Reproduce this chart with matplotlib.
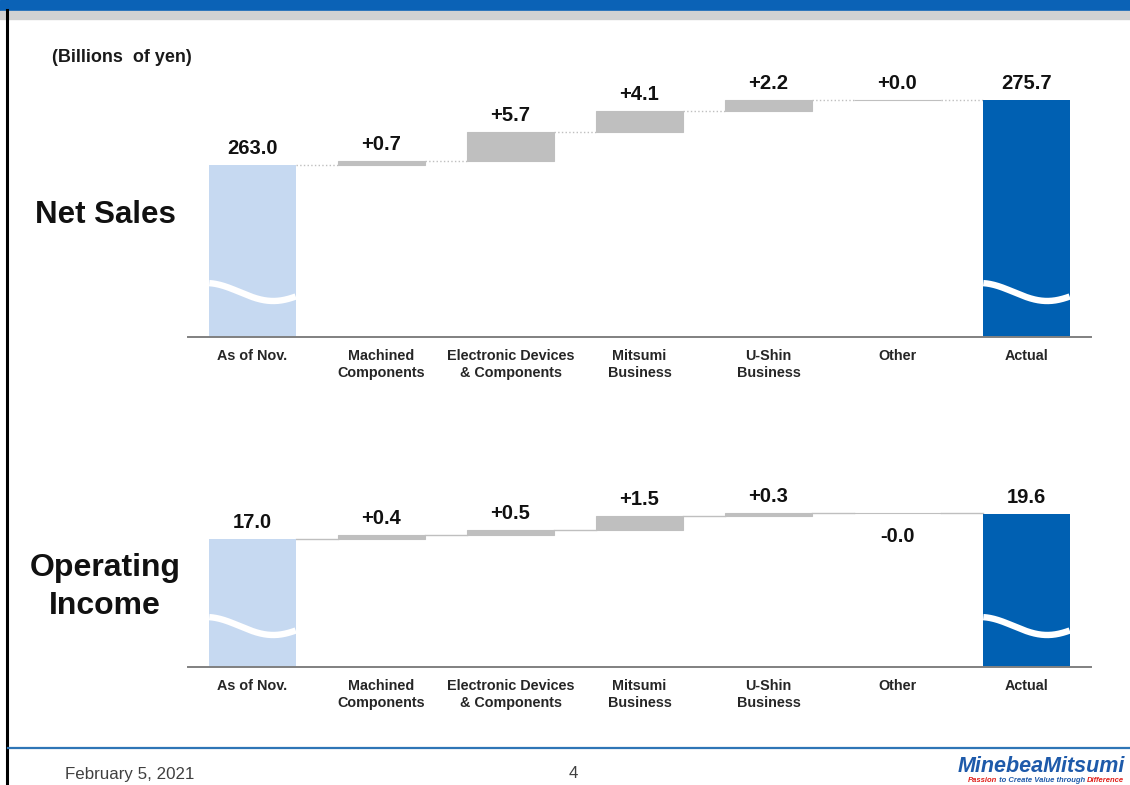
import numpy as np
import matplotlib
matplotlib.use("Agg")
import matplotlib.pyplot as plt
from matplotlib.lines import Line2D
from matplotlib.patches import Rectangle

plt.rcParams['font.family'] = ['Liberation Sans', 'DejaVu Sans']

# ---- data (billions of yen) ----
categories = ["As of Nov.", "Machined\nComponents", "Electronic Devices\n& Components",
              "Mitsumi\nBusiness", "U-Shin\nBusiness", "Other", "Actual"]
sales_start = 263.0
sales_changes = [0.7, 5.7, 4.1, 2.2, 0.0]
sales_actual = 275.7
income_start = 17.0
income_changes = [0.4, 0.5, 1.5, 0.3, -0.0]
income_actual = 19.6

LIGHT_BLUE = "#C6D9F1"
DARK_BLUE = "#0060B2"
GRAY = "#BFBFBF"

W, H = 1130, 785
fig = plt.figure(figsize=(W / 100, H / 100), dpi=100)


def fx(x):
    return x / W


def fy(y):
    return 1 - y / H


def add_axes_px(left, top, right, bottom):
    return fig.add_axes([fx(left), fy(bottom), (right - left) / W, (bottom - top) / H])


def draw_wave(ax, xc, width, center_px, amp_px, ax_h_px):
    xs = np.linspace(xc - width / 2, xc + width / 2, 200)
    t = (xs - (xc - width / 2)) / width
    y_px = center_px + amp_px * np.cos(np.pi * (t + 0.04) / 0.78)
    ax.plot(xs, y_px / ax_h_px, color="white", lw=4.6, solid_capstyle="butt",
            transform=ax.get_xaxis_transform(), zorder=4, clip_on=False)


def waterfall(ax, start, changes, actual, ylim, ax_h_px, conn_style, wave_px):
    n = len(changes) + 2
    x = np.arange(n)
    w = 0.67
    levels = start + np.concatenate([[0.0], np.cumsum(changes)])

    ax.bar(x[0], start, w, color=LIGHT_BLUE, zorder=2)
    ax.bar(x[1:-1], changes, w, bottom=levels[:-1], color=GRAY,
           edgecolor=GRAY, linewidth=0.8, zorder=2)
    ax.bar(x[-1], actual, w, color=DARK_BLUE, zorder=2)

    # connectors between consecutive bars
    for i in range(n - 1):
        lvl = levels[min(i, len(levels) - 1)]
        ax.plot([x[i] + w / 2, x[i + 1] - w / 2], [lvl, lvl], color="#BFBFBF",
                lw=1.0, linestyle=conn_style, zorder=1)

    lab = dict(ha="center", fontsize=14.5, fontweight="bold", color="#111111",
               textcoords="offset points")
    ax.annotate(f"{start:.1f}", (x[0], start), xytext=(0, 5), va="bottom", **lab)
    for i, c in enumerate(changes):
        lo, hi = levels[i], levels[i + 1]
        if np.signbit(c):
            ax.annotate(f"{c:+.1f}", (x[i + 1], min(lo, hi)), xytext=(0, -10), va="top", **lab)
        else:
            ax.annotate(f"{c:+.1f}", (x[i + 1], max(lo, hi)), xytext=(0, 5), va="bottom", **lab)
    ax.annotate(f"{actual:.1f}", (x[-1], actual), xytext=(0, 5), va="bottom", **lab)

    draw_wave(ax, x[0], w, wave_px, 9, ax_h_px)
    draw_wave(ax, x[-1], w, wave_px, 9, ax_h_px)

    ax.set_xlim(-0.5, n - 0.5)
    ax.set_ylim(*ylim)
    ax.set_xticks(x)
    ax.set_xticklabels(categories, fontsize=10.4, fontweight="bold", color="#262626")
    ax.tick_params(axis="x", length=0, pad=9)
    ax.set_yticks([])
    for s in ("top", "left", "right"):
        ax.spines[s].set_visible(False)
    ax.spines["bottom"].set_color("#808080")
    ax.spines["bottom"].set_linewidth(1.4)
    ax.patch.set_alpha(0)


# Net sales panel: baseline at 337 px, axes 70..337 px
ax1 = add_axes_px(188, 70, 1091, 337)
waterfall(ax1, sales_start, sales_changes, sales_actual, (229.4, 281.5), 267, ":", 45)

# Operating income panel: baseline at 667 px, axes 470..667 px
ax2 = add_axes_px(188, 470, 1091, 667)
waterfall(ax2, income_start, income_changes, income_actual, (3.69, 24.18), 197, "-", 41)

# ---- slide decoration ----
fig.patches.append(Rectangle((0, fy(10)), 1, 10 / H, transform=fig.transFigure,
                             color="#0B62B6", zorder=0))
fig.patches.append(Rectangle((0, fy(19)), 1, 8 / H, transform=fig.transFigure,
                             color="#D2D2D2", zorder=0))
fig.add_artist(Line2D([fx(7), fx(7)], [fy(10), 0], transform=fig.transFigure,
                      color="black", lw=2.2))
fig.add_artist(Line2D([fx(8), 1], [fy(748), fy(748)], transform=fig.transFigure,
                      color="#2E75B6", lw=1.6))

fig.text(fx(52), fy(58), "(Billions  of yen)", fontsize=13, fontweight="bold",
         color="#1a1a1a", ha="left", va="center")
fig.text(fx(105), fy(215), "Net Sales", fontsize=22.5, fontweight="bold",
         color="#111111", ha="center", va="center")
fig.text(fx(105), fy(587), "Operating\nIncome", fontsize=23, fontweight="bold",
         color="#111111", ha="center", va="center", linespacing=1.32)

fig.text(fx(65), fy(774), "February 5, 2021", fontsize=12.2, color="#404040",
         ha="left", va="center")
fig.text(fx(573), fy(774), "4", fontsize=12.2, color="#404040", ha="center", va="center")

fig.text(fx(1125), fy(767), "MinebeaMitsumi", fontsize=15.5, fontweight="bold",
         style="italic", color="#1E5AAA", ha="right", va="center")

# tagline under the logo, right-aligned with it
tag_parts = [("Passion", "#E0201B"), (" to Create Value through ", "#1E5AAA"),
             ("Difference", "#E0201B")]
fig.canvas.draw()
renderer = fig.canvas.get_renderer()
tag_texts = []
for txt, col in tag_parts:
    t = fig.text(0, fy(781), txt, fontsize=5.5, fontweight="bold", style="italic",
                 color=col, ha="left", va="center")
    tag_texts.append(t)
widths = [t.get_window_extent(renderer=renderer).width for t in tag_texts]
xpos = 1124 - sum(widths)
for t, wpx in zip(tag_texts, widths):
    t.set_x(fx(xpos))
    xpos += wpx

fig.savefig("out.png", dpi=100)
